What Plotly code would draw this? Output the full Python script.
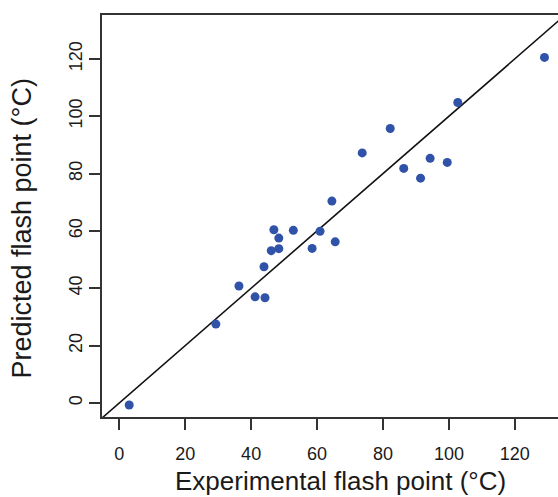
import plotly.graph_objects as go

experimental = [3.0, 29.3, 36.3, 41.2, 44.2, 43.9, 46.1, 48.4, 48.4, 46.9, 52.8, 60.9, 58.5,
                65.5, 64.5, 73.7, 82.2, 86.3, 91.4, 94.3, 99.5, 102.7, 129.0]
predicted = [-0.7, 27.5, 40.8, 37.0, 36.7, 47.5, 53.1, 53.8, 57.5, 60.4, 60.2, 59.9, 53.9,
             56.2, 70.4, 87.2, 95.7, 81.8, 78.4, 85.3, 83.9, 104.8, 120.5]
tick_vals = [0, 20, 40, 60, 80, 100, 120]
x_range = [-5.25, 133.1]
y_range = [-4.9, 135.3]
ident = [-20, 160]
x_title = "Experimental flash point (°C)"
y_title = "Predicted flash point (°C)"

fig = go.Figure()
fig.add_trace(go.Scatter(x=ident, y=ident, mode="lines",
                         line=dict(color="#111111", width=1.6), hoverinfo="skip"))
fig.add_trace(go.Scatter(x=experimental, y=predicted, mode="markers",
                         marker=dict(color="#3052A8", size=9, line=dict(width=0))))

font = "Liberation Sans, Arial, sans-serif"
fig.update_layout(
    width=558, height=497,
    margin=dict(l=102, r=0, t=15, b=80),
    paper_bgcolor="white", plot_bgcolor="white",
    showlegend=False,
    font=dict(family=font, color="#1a1a1a"),
)
fig.update_xaxes(range=x_range, tickvals=tick_vals, ticks="outside", ticklen=11,
                 tickwidth=1.5, tickcolor="#333333", showline=True, linecolor="#333333",
                 linewidth=1.8, mirror=True, showgrid=False, zeroline=False,
                 ticklabelstandoff=8,
                 tickfont=dict(size=18, family=font, color="#1a1a1a"))
fig.update_yaxes(range=y_range, tickvals=tick_vals, ticks="outside", ticklen=11,
                 tickwidth=1.5, tickcolor="#333333", showline=True, linecolor="#333333",
                 linewidth=1.8, mirror=False, showgrid=False, zeroline=False,
                 tickangle=-90,
                 tickfont=dict(size=18, family=font, color="#1a1a1a"))
fig.add_annotation(text=x_title, xref="paper", yref="paper", x=(340 - 102) / 456,
                   y=-0.16, xanchor="center", yanchor="middle", showarrow=False,
                   font=dict(size=26, family=font, color="#1a1a1a"))
fig.add_annotation(text=y_title, xref="paper", yref="paper", x=(22.5 - 102) / 456,
                   y=0.4676, xanchor="center", yanchor="middle", showarrow=False,
                   textangle=-90, font=dict(size=27, family=font, color="#1a1a1a"))

fig.write_html("out.html", config={"displayModeBar": False},
               post_script="document.body.style.margin='0px';")
